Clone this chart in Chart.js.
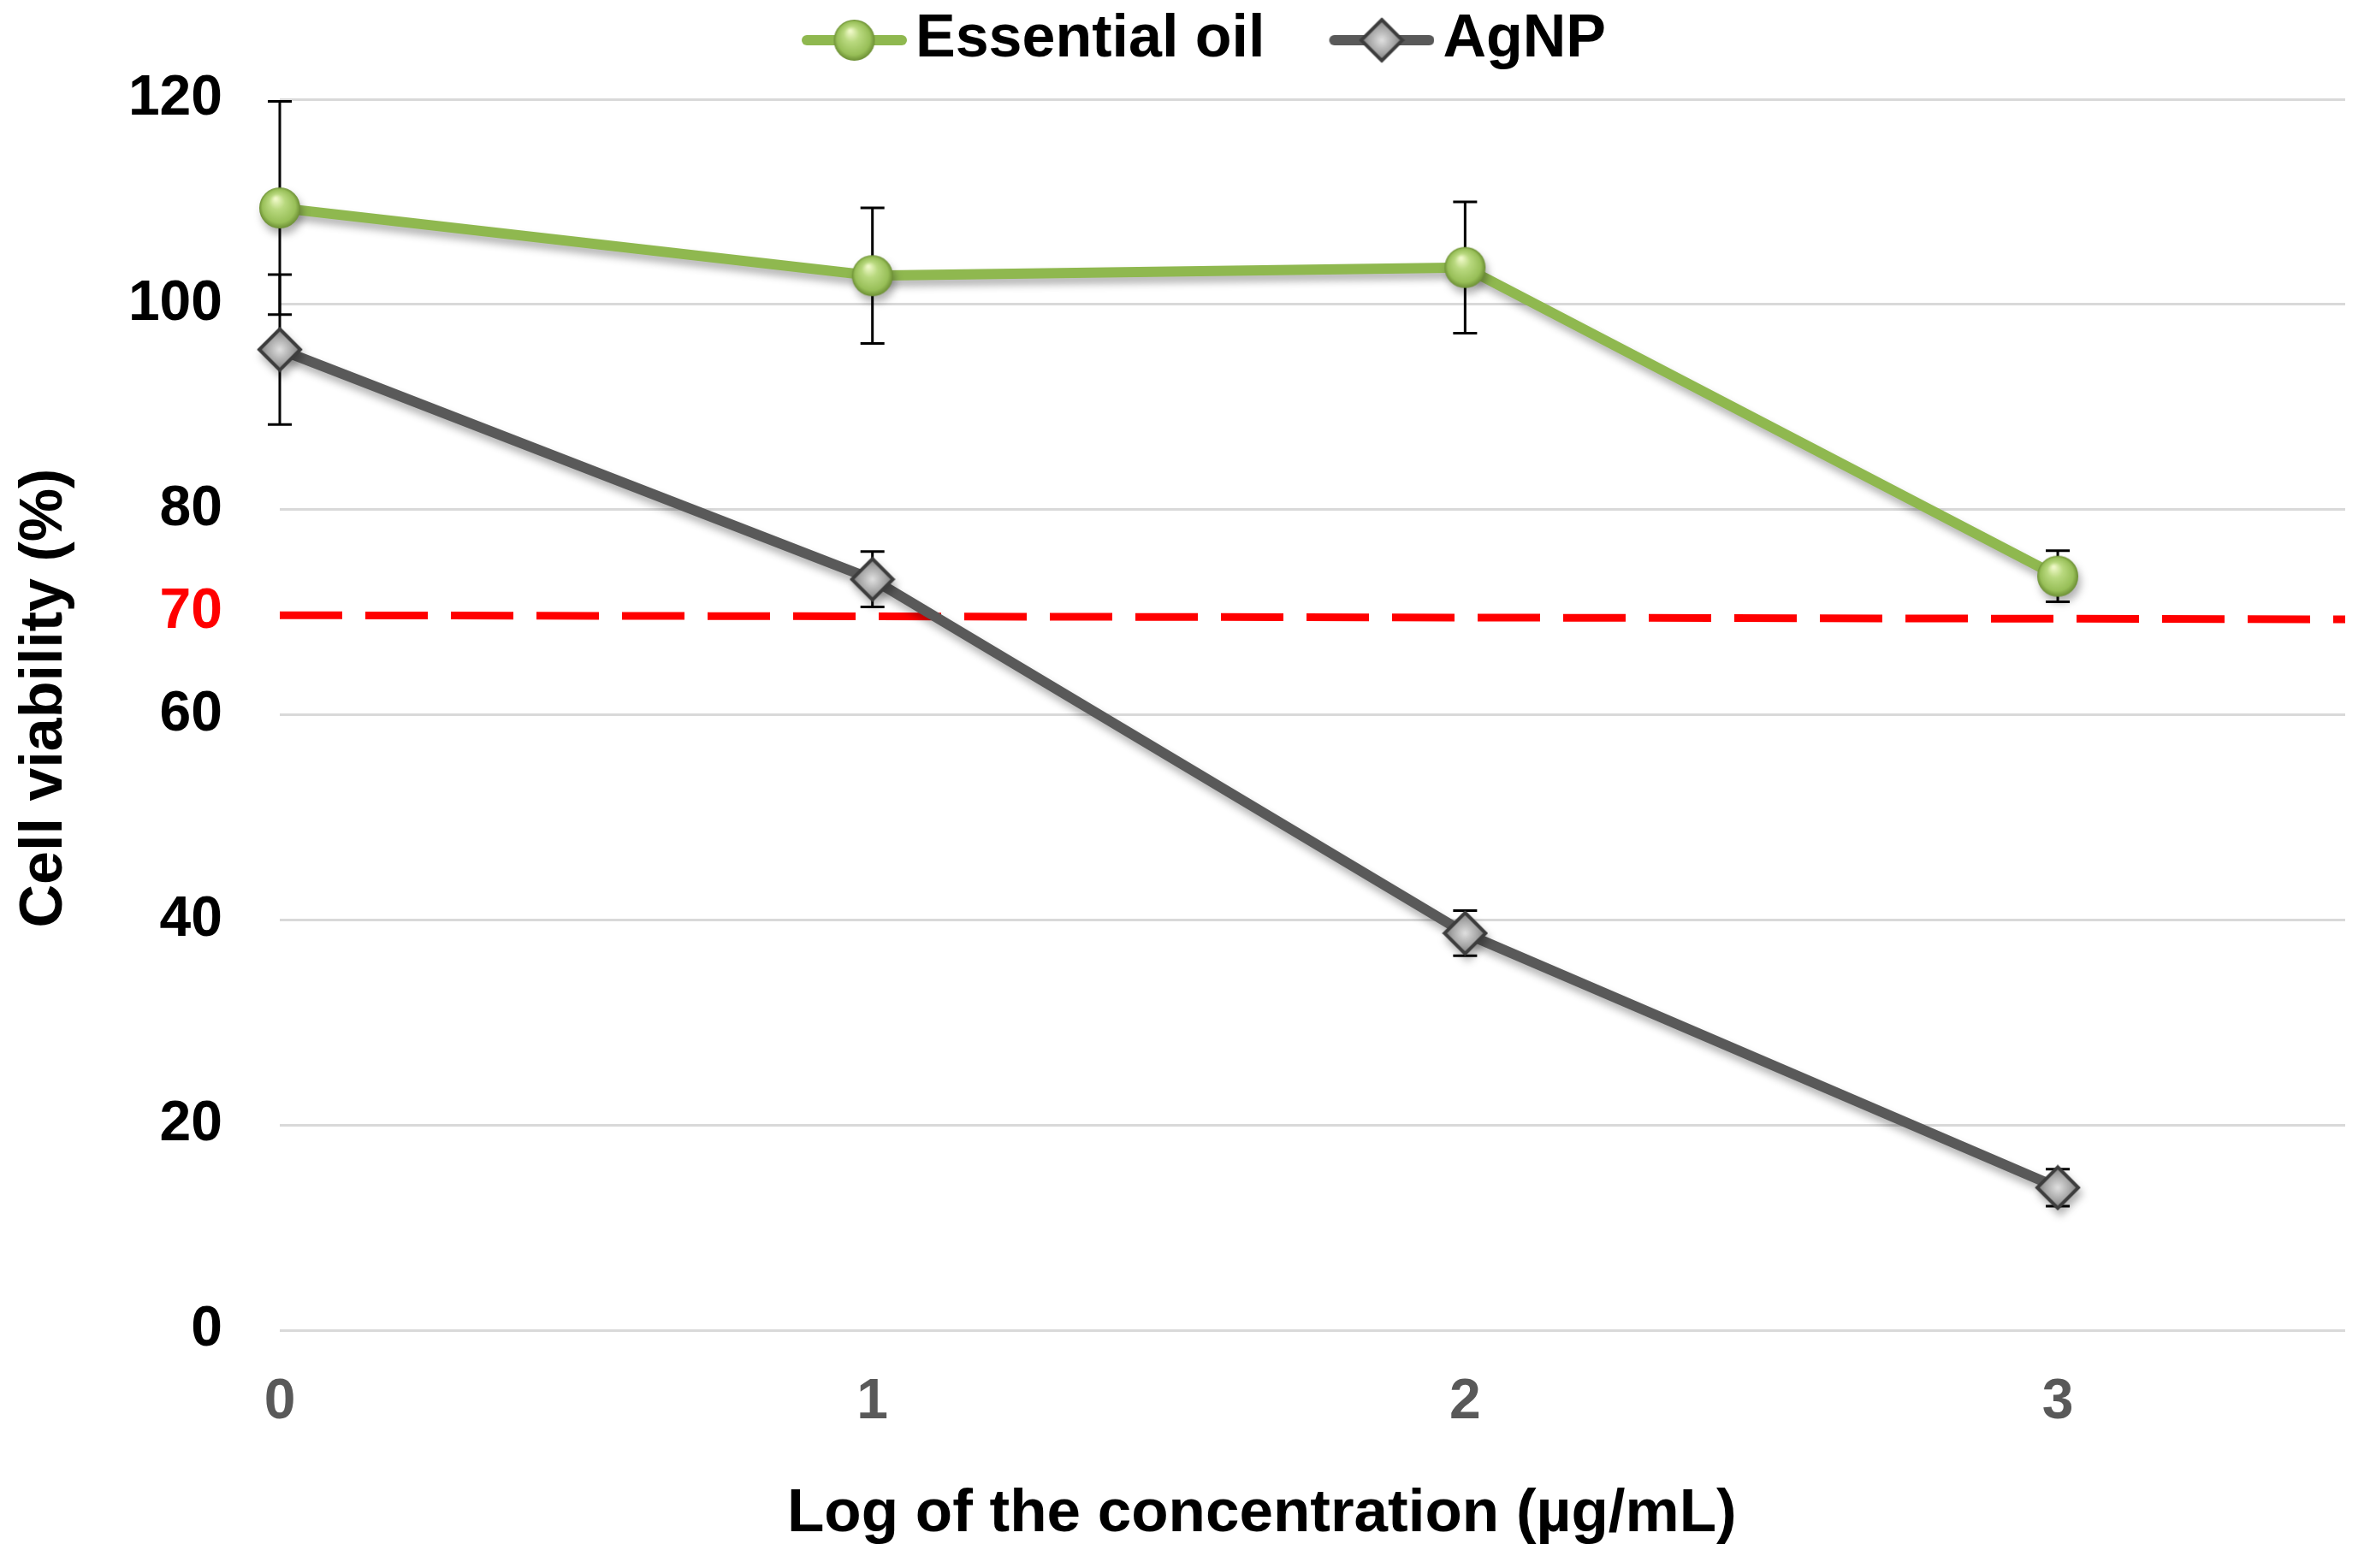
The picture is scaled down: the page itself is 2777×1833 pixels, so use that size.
<!DOCTYPE html>
<html>
<head>
<meta charset="utf-8">
<title>Cell viability</title>
<script src="https://cdn.jsdelivr.net/npm/chart.js@4/dist/chart.umd.min.js"></script>
<style>
  html, body { margin: 0; padding: 0; background: #fff; }
  #wrap { width: 2777px; height: 1833px; }
</style>
</head>
<body>
<div id="wrap"><canvas id="viabilityChart" width="2777" height="1833"></canvas></div>
<script>
// ================== DATA ==================
const logConcentration = [0, 1, 2, 3];
const oilViability = [109.4, 102.8, 103.6, 73.5];
const oilError = [10.4, 6.6, 6.4, 2.5];
const agnpViability = [95.6, 73.2, 38.7, 13.9];
const agnpError = [7.3, 2.7, 2.2, 1.8];
const thresholdX = [0, 3.485];
const thresholdY = [69.7, 69.3];
const yTickValues = [0, 20, 40, 60, 70, 80, 100, 120];
const xTickValues = [0, 1, 2, 3];

// ================== STYLE ==================
const FONT = '"Liberation Sans", Arial, sans-serif';
const GREEN = "#8fb84f";
const GREY = "#595959";

// ================== MARKERS ==================
function makeSphere(r) {
  const c = document.createElement("canvas");
  const s = r * 2 + 4;
  c.width = s; c.height = s;
  const g = c.getContext("2d");
  const cx = s / 2, cy = s / 2;
  const grad = g.createRadialGradient(cx - r * 0.2, cy - r * 0.45, r * 0.05, cx, cy, r);
  grad.addColorStop(0, "#eef8c6");
  grad.addColorStop(0.35, "#b9d97f");
  grad.addColorStop(0.8, "#98bf58");
  grad.addColorStop(1, "#6c8f34");
  g.fillStyle = grad;
  g.beginPath();
  g.arc(cx, cy, r, 0, Math.PI * 2);
  g.fill();
  return c;
}

function makeDiamond(r) {
  const c = document.createElement("canvas");
  const s = r * 2 + 6;
  c.width = s; c.height = s;
  const g = c.getContext("2d");
  const cx = s / 2, cy = s / 2;
  const grad = g.createRadialGradient(cx, cy, 1, cx, cy, r);
  grad.addColorStop(0, "#dcdcdc");
  grad.addColorStop(0.6, "#a6a6a6");
  grad.addColorStop(1, "#7a7a7a");
  g.beginPath();
  g.moveTo(cx, cy - r);
  g.lineTo(cx + r, cy);
  g.lineTo(cx, cy + r);
  g.lineTo(cx - r, cy);
  g.closePath();
  g.fillStyle = grad;
  g.fill();
  g.lineWidth = 4;
  g.lineJoin = "miter";
  g.strokeStyle = "#3d3d3d";
  g.stroke();
  return c;
}

function makeLegendIcon(color, marker) {
  // line with the marker in the middle, left part kept empty as spacing
  const c = document.createElement("canvas");
  c.width = 211; c.height = 60;
  const g = c.getContext("2d");
  g.strokeStyle = color;
  g.lineWidth = 12;
  g.lineCap = "round";
  g.beginPath();
  g.moveTo(94, 30);
  g.lineTo(205, 30);
  g.stroke();
  g.drawImage(marker, 149.5 - marker.width / 2, 30 - marker.height / 2);
  return c;
}

const sphere = makeSphere(24);
const diamond = makeDiamond(24);
const legendIcons = [makeLegendIcon(GREEN, sphere), makeLegendIcon(GREY, diamond)];

// ================== PLUGINS ==================
const errorBars = {
  id: "errorBars",
  beforeDatasetsDraw(chart) {
    const { ctx, scales: { x, y } } = chart;
    const series = [[oilViability, oilError], [agnpViability, agnpError]];
    ctx.save();
    ctx.strokeStyle = "#000";
    ctx.lineWidth = 3;
    series.forEach(([vals, errs]) => {
      vals.forEach((v, i) => {
        const px = x.getPixelForValue(logConcentration[i]);
        const top = y.getPixelForValue(v + errs[i]);
        const bot = y.getPixelForValue(v - errs[i]);
        ctx.beginPath();
        ctx.moveTo(px, top); ctx.lineTo(px, bot);
        ctx.moveTo(px - 14, top); ctx.lineTo(px + 14, top);
        ctx.moveTo(px - 14, bot); ctx.lineTo(px + 14, bot);
        ctx.stroke();
      });
    });
    ctx.restore();
  }
};

const lineShadow = {
  id: "lineShadow",
  beforeDatasetDraw(chart, args) {
    if (!chart.data.datasets[args.index].shadow) return;
    const ctx = chart.ctx;
    ctx.save();
    ctx.shadowColor = "rgba(0,0,0,0.3)";
    ctx.shadowBlur = 10;
    ctx.shadowOffsetX = 3;
    ctx.shadowOffsetY = 7;
  },
  afterDatasetDraw(chart, args) {
    if (!chart.data.datasets[args.index].shadow) return;
    chart.ctx.restore();
  }
};

const legendSpace = {
  id: "legendSpace",
  beforeInit(chart) {
    const fit = chart.legend.fit;
    chart.legend.fit = function () {
      fit.bind(chart.legend)();
      this.height += 24;
    };
  }
};

// ================== CHART ==================
const toPoints = (xs, ys) => xs.map((v, i) => ({ x: v, y: ys[i] }));

new Chart(document.getElementById("viabilityChart"), {
  type: "line",
  data: {
    datasets: [
      {
        label: "Essential oil",
        data: toPoints(logConcentration, oilViability),
        borderColor: GREEN,
        borderWidth: 12,
        pointStyle: sphere,
        pointRadius: 24,
        pointHoverRadius: 24,
        shadow: true,
        clip: false,
        order: 1
      },
      {
        label: "AgNP",
        data: toPoints(logConcentration, agnpViability),
        borderColor: GREY,
        borderWidth: 12,
        pointStyle: diamond,
        pointRadius: 24,
        pointHoverRadius: 24,
        shadow: true,
        clip: false,
        order: 2
      },
      {
        label: "threshold",
        data: toPoints(thresholdX, thresholdY),
        borderColor: "#ff0000",
        borderWidth: 9,
        borderDash: [73, 27],
        pointRadius: 0,
        order: 3
      }
    ]
  },
  options: {
    responsive: false,
    animation: false,
    devicePixelRatio: 1,
    layout: { padding: { top: 0, right: 26, bottom: 0, left: 0 } },
    plugins: {
      tooltip: { enabled: false },
      legend: {
        position: "top",
        labels: {
          usePointStyle: true,
          pointStyleWidth: 161,
          padding: 12,
          color: "#000",
          font: { family: FONT, size: 70, weight: "bold" },
          filter: (item) => item.datasetIndex < 2,
          generateLabels(chart) {
            return Chart.defaults.plugins.legend.labels.generateLabels(chart).map((l) => {
              l.pointStyle = legendIcons[l.datasetIndex] || l.pointStyle;
              return l;
            });
          }
        }
      }
    },
    scales: {
      x: {
        type: "linear",
        min: 0,
        max: 3.485,
        afterBuildTicks(scale) {
          scale.ticks = xTickValues.map((v) => ({ value: v }));
        },
        afterFit(scale) { scale.height = 278; },
        grid: { display: false },
        border: { display: false },
        ticks: {
          padding: 37,
          color: "#595959",
          font: { family: FONT, size: 66, weight: "bold" }
        },
        title: {
          display: true,
          text: "Log of the concentration (µg/mL)      ",
          color: "#000",
          font: { family: FONT, size: 71, weight: "bold" },
          padding: { top: 0, bottom: 20 }
        }
      },
      y: {
        min: 0,
        max: 120,
        afterBuildTicks(scale) {
          scale.ticks = yTickValues.map((v) => ({ value: v }));
        },
        afterFit(scale) { scale.width = 327; },
        grid: {
          drawTicks: false,
          lineWidth: 3,
          color: (ctx) => (ctx.tick && ctx.tick.value === 70 ? "rgba(0,0,0,0)" : "#d9d9d9")
        },
        border: { display: false },
        ticks: {
          padding: 67,
          color: (ctx) => (ctx.tick && ctx.tick.value === 70 ? "#ff0000" : "#000"),
          font: { family: FONT, size: 66, weight: "bold" }
        },
        title: {
          display: true,
          text: "  Cell viability (%)",
          color: "#000",
          font: { family: FONT, size: 70, weight: "bold" },
          padding: { top: 11, bottom: 0 }
        }
      }
    }
  },
  plugins: [errorBars, lineShadow, legendSpace]
});
</script>
</body>
</html>
